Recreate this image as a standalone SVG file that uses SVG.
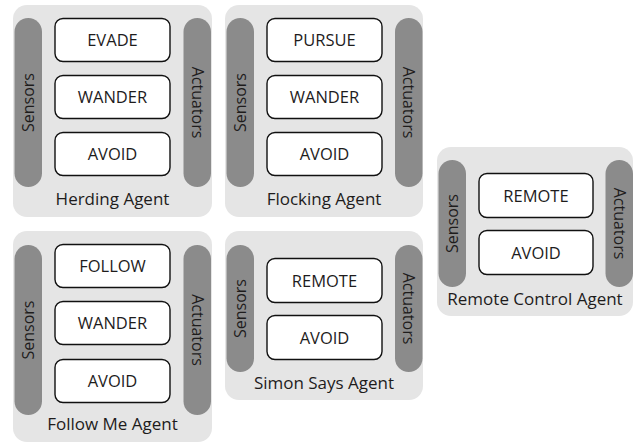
<svg xmlns="http://www.w3.org/2000/svg" width="635" height="443" viewBox="0 0 635 443">
<style>
.agent{fill:#e5e5e5}
.pill{fill:#8b8b8b}
.beh{fill:#fff;stroke:#111;stroke-width:1.4}
text{font-family:"Open Sans","Liberation Sans",sans-serif;fill:#1e1c1c;text-anchor:middle}
.bt{font-size:16.5px}
.st{font-size:16px}
.lt{font-size:17px}
</style>
<rect width="635" height="443" fill="#fff"/>
<g id="herding">
<rect class="agent" x="13" y="5" width="199" height="212" rx="14"/>
<rect class="pill" x="14.5" y="18" width="27.5" height="169" rx="13.75"/>
<rect class="pill" x="183.5" y="18" width="27.5" height="169" rx="13.75"/>
<text class="st" transform="translate(34,102.5) rotate(-90)">Sensors</text>
<text class="st" transform="translate(191.5,102.5) rotate(90)">Actuators</text>
<rect class="beh" x="55" y="18.5" width="115" height="43" rx="8"/>
<text class="bt" x="112.5" y="46">EVADE</text>
<rect class="beh" x="55" y="75.5" width="115" height="43" rx="8"/>
<text class="bt" x="112.5" y="103">WANDER</text>
<rect class="beh" x="55" y="132.5" width="115" height="43" rx="8"/>
<text class="bt" x="112.5" y="160">AVOID</text>
<text class="lt" x="112.5" y="205">Herding Agent</text>
</g>
<g id="flocking">
<rect class="agent" x="225" y="5" width="198" height="212" rx="14"/>
<rect class="pill" x="226.5" y="18" width="27.5" height="169" rx="13.75"/>
<rect class="pill" x="395" y="18" width="27.5" height="169" rx="13.75"/>
<text class="st" transform="translate(246,102.5) rotate(-90)">Sensors</text>
<text class="st" transform="translate(403,102.5) rotate(90)">Actuators</text>
<rect class="beh" x="267" y="18.5" width="115" height="43" rx="8"/>
<text class="bt" x="324.5" y="46">PURSUE</text>
<rect class="beh" x="267" y="75.5" width="115" height="43" rx="8"/>
<text class="bt" x="324.5" y="103">WANDER</text>
<rect class="beh" x="267" y="132.5" width="115" height="43" rx="8"/>
<text class="bt" x="324.5" y="160">AVOID</text>
<text class="lt" x="324" y="205">Flocking Agent</text>
</g>
<g id="remote">
<rect class="agent" x="437" y="147" width="196" height="169" rx="14"/>
<rect class="pill" x="438.5" y="160" width="27.5" height="127" rx="13.75"/>
<rect class="pill" x="605.5" y="160" width="27.5" height="127" rx="13.75"/>
<text class="st" transform="translate(458,223.5) rotate(-90)">Sensors</text>
<text class="st" transform="translate(613.5,223.5) rotate(90)">Actuators</text>
<rect class="beh" x="479" y="173.5" width="114" height="44" rx="8"/>
<text class="bt" x="536" y="201.5">REMOTE</text>
<rect class="beh" x="479" y="230.5" width="114" height="44" rx="8"/>
<text class="bt" x="536" y="258.5">AVOID</text>
<text class="lt" x="535" y="304.5">Remote Control Agent</text>
</g>
<g id="followme">
<rect class="agent" x="13" y="231" width="199" height="211" rx="14"/>
<rect class="pill" x="14.5" y="245" width="27.5" height="170" rx="13.75"/>
<rect class="pill" x="183.5" y="245" width="27.5" height="170" rx="13.75"/>
<text class="st" transform="translate(34,330) rotate(-90)">Sensors</text>
<text class="st" transform="translate(191.5,330) rotate(90)">Actuators</text>
<rect class="beh" x="55" y="244.5" width="115" height="43" rx="8"/>
<text class="bt" x="112.5" y="272">FOLLOW</text>
<rect class="beh" x="55" y="301.5" width="115" height="43" rx="8"/>
<text class="bt" x="112.5" y="329">WANDER</text>
<rect class="beh" x="55" y="359.5" width="115" height="43" rx="8"/>
<text class="bt" x="112.5" y="387">AVOID</text>
<text class="lt" x="112.5" y="430">Follow Me Agent</text>
</g>
<g id="simonsays">
<rect class="agent" x="225" y="231" width="198" height="169" rx="14"/>
<rect class="pill" x="226.5" y="245" width="27.5" height="127" rx="13.75"/>
<rect class="pill" x="395" y="245" width="27.5" height="127" rx="13.75"/>
<text class="st" transform="translate(246,308.5) rotate(-90)">Sensors</text>
<text class="st" transform="translate(403,308.5) rotate(90)">Actuators</text>
<rect class="beh" x="267" y="258.5" width="115" height="44" rx="8"/>
<text class="bt" x="324.5" y="286.5">REMOTE</text>
<rect class="beh" x="267" y="315.5" width="115" height="44" rx="8"/>
<text class="bt" x="324.5" y="343.5">AVOID</text>
<text class="lt" x="324" y="389">Simon Says Agent</text>
</g>
<g id="connectors"/>
</svg>
